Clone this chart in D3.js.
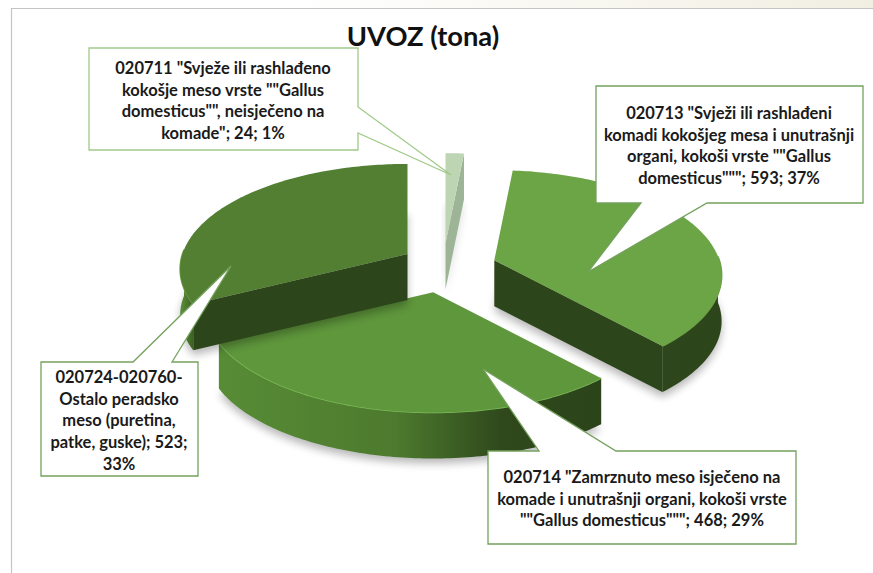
<!DOCTYPE html>
<html><head><meta charset="utf-8">
<script src="https://cdn.jsdelivr.net/npm/d3@7"></script>
<style>html,body{margin:0;padding:0;background:#fff}svg{display:block}</style>
</head><body>
<svg id="c" width="873" height="573"></svg>
<script>
const title = "UVOZ (tona)";
const values = [24, 593, 468, 523];
const explode = [0.24, 0.24, 0.24, 0.185];
const lift = [0, 0, 0, -4];
const topColors = ["#bdd5b3", "#6ba545", "#5f973c", "#527f32"];
const sideColors = ["#9db596", "#2d451a", "#2d451a", "#2d451a"];
const labels = [
  ['020711 "Svježe ili rashlađeno', 'kokošje meso vrste ""Gallus', 'domesticus"", neisječeno na', 'komade"; 24; 1%'],
  ['020713 "Svježi ili rashlađeni', 'komadi kokošjeg mesa i unutrašnji', 'organi, kokoši vrste ""Gallus', 'domesticus"""; 593; 37%'],
  ['020714 "Zamrznuto meso isječeno na', 'komade i unutrašnji organi, kokoši vrste', '""Gallus domesticus"""; 468; 29%'],
  ['020724-020760-', 'Ostalo peradsko', 'meso (puretina,', 'patke, guske); 523;', '33%']
];
// callout layout: box x0,y0,x1,y1, text centre, pointer base on an edge and tip
const callouts = [
  {x0:89,y0:48,x1:358,y1:150,cx:223,ty:68,edge:"right",b0:107,b1:133,tip:[451,175],stroke:"#a0ca89"},
  {x0:596,y0:86,x1:863,y1:203,cx:729,ty:113,edge:"bottom",b0:641,b1:707,tip:[588,272],stroke:"#74a15c"},
  {x0:488,y0:451,x1:796,y1:544,cx:642,ty:477,edge:"top",b0:539,b1:616,tip:[483,369],stroke:"#74a15c"},
  {x0:41,y0:362,x1:198,y1:476,cx:119,ty:377,edge:"top",b0:133,b1:172,tip:[231,266],stroke:"#74a15c"}
];

const svg = d3.select("#c");
const defs = svg.append("defs");
defs.append("filter").attr("id","blur").attr("x","-20%").attr("y","-20%").attr("width","140%").attr("height","140%")
  .append("feGaussianBlur").attr("stdDeviation",4);
defs.append("filter").attr("id","soft").append("feGaussianBlur").attr("stdDeviation",0.7);
function grad(id, stops, x1, x2){
  const g = defs.append("linearGradient").attr("id",id).attr("gradientUnits","userSpaceOnUse")
    .attr("x1",x1).attr("x2",x2).attr("y1",0).attr("y2",0);
  stops.forEach(s=>g.append("stop").attr("offset",s[0]).attr("stop-color",s[1]));
}
grad("wall2",[[0,"#2f481c"],[1,"#2d451a"]],560,720);
grad("wall3",[[0,"#578c35"],[0.45,"#4d7a2e"],[0.72,"#2f491c"],[1,"#2b4319"]],220,610);
grad("wall4",[[0,"#578a36"],[1,"#2d451a"]],182,200);
grad("band",[[0,"#ffffff"],[1,"#f1efe2"]],300,873);

// frame
svg.append("rect").attr("x",0).attr("y",0).attr("width",873).attr("height",8).attr("fill","url(#band)");
svg.append("path").attr("d","M11.5,573V8.5H873").attr("fill","none").attr("stroke","#c4c4c4").attr("stroke-width",1.2);

// pie → projected slices
const cx = 443, cy = 268, depth = 46, k = 0.143;
const xS = d3.scaleLinear().domain([-1,1]).range([-225,225]);
const yS = d3.scaleLinear().domain([-1,1]).range([-103,103]);
const pie = d3.pie().sort(null).startAngle(0).endAngle(2*Math.PI);
const arcs = pie(values);
const line = d3.line();

function project(x, y, ox, oy, dz){
  const p = 1/(1-k*y);
  return [cx + ox + xS(x)*p, cy + oy + yS(y)*p + (dz||0)];
}
const slices = arcs.map((a,i)=>{
  const mid = (a.startAngle+a.endAngle)/2, e = explode[i];
  const ox = xS(Math.sin(mid)*e), oy = yS(-Math.cos(mid)*e) + lift[i];
  const n = Math.max(2, Math.ceil((a.endAngle-a.startAngle)*60));
  const rim = d3.range(n+1).map(j=>a.startAngle+(a.endAngle-a.startAngle)*j/n);
  const pt = (t,dz)=>project(Math.sin(t),-Math.cos(t),ox,oy,dz);
  const apex = project(0,0,ox,oy,0);
  const apexB = project(0,0,ox,oy,depth);
  return {i,a,rim,pt,apex,apexB};
});
function drawSlice(s){
  const {i,a,rim,pt,apex,apexB} = s;
  const g = svg.append("g");
  const top = [apex,...rim.map(t=>pt(t,0))];
  // silhouette shadow
  const sil = [apexB,...rim.map(t=>pt(t,depth))];
  g.append("path").attr("d",line(sil)+"Z").attr("transform","translate(0,5)")
    .attr("fill","#000").attr("opacity",i===0?0.12:0.28).attr("filter","url(#blur)");
  // cut walls (end radius faces the viewer for slices 0, 1 and 3)
  const pe = pt(a.endAngle,0), peB = pt(a.endAngle,depth);
  const ps = pt(a.startAngle,0), psB = pt(a.startAngle,depth);
  if (i!==2) g.append("path").attr("d",line([apex,pe,peB,apexB])+"Z").attr("fill",sideColors[i]);
  if (i===3) g.append("path").attr("d",line([apex,ps,psB,apexB])+"Z").attr("fill",sideColors[i]);
  // outer wall: only rim points on the near half
  const front = rim.filter(t=>Math.cos(t)<0.05);
  if (i>0 && front.length>1){
    const wall = [...front.map(t=>pt(t,0)),...front.slice().reverse().map(t=>pt(t,depth))];
    g.append("path").attr("d",line(wall)+"Z").attr("fill",`url(#wall${i+1})`);
    g.append("path").attr("d",line(front.map(t=>pt(t,0)))).attr("fill","none")
      .attr("stroke",i===2?"#7cb958":"#6c9f4a").attr("stroke-width",1.6).attr("filter","url(#soft)");
  }
  g.append("path").attr("d",line(top)+"Z").attr("fill",topColors[i]);
  return g;
}
[0,1,2,3].forEach(i=>drawSlice(slices[i]));

// title
svg.append("text").attr("x",423).attr("y",46).attr("text-anchor","middle")
  .attr("font-family","Lato, 'Open Sans', sans-serif").attr("font-weight",700)
  .attr("font-size",27.3).attr("fill","#111").text(title);

// callouts
callouts.forEach((c,i)=>{
  let d;
  if (c.edge==="right") d = [[c.x0,c.y0],[c.x1,c.y0],[c.x1,c.b0],c.tip,[c.x1,c.b1],[c.x1,c.y1],[c.x0,c.y1]];
  if (c.edge==="bottom") d = [[c.x0,c.y0],[c.x1,c.y0],[c.x1,c.y1],[c.b1,c.y1],c.tip,[c.b0,c.y1],[c.x0,c.y1]];
  if (c.edge==="top") d = [[c.x0,c.y0],[c.b0,c.y0],c.tip,[c.b1,c.y0],[c.x1,c.y0],[c.x1,c.y1],[c.x0,c.y1]];
  svg.append("path").attr("d",line(d)+"Z").attr("fill","#fff").attr("stroke",c.stroke).attr("stroke-width",1.3);
  labels[i].forEach((t,j)=>{
    svg.append("text").attr("x",c.cx).attr("y",c.ty+j*21.8).attr("dy","0.35em").attr("text-anchor","middle")
      .attr("font-family","Lato, 'Open Sans', sans-serif").attr("font-weight",700)
      .attr("font-size",16.5).attr("fill","#1a1a1a").text(t);
  });
});
</script>
</body></html>
